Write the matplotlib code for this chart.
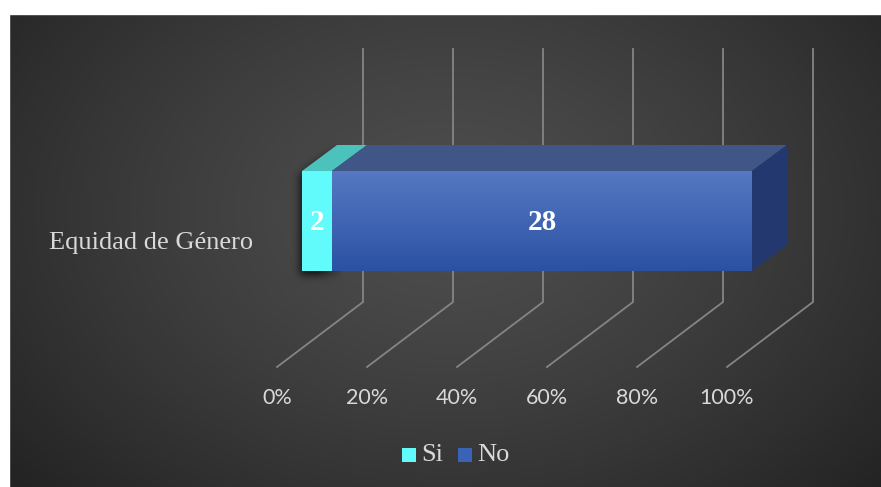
import numpy as np
import matplotlib.pyplot as plt
from matplotlib.patches import Polygon, Rectangle
from matplotlib.path import Path

category = "Equidad de Género"
series = ["Si", "No"]
counts = [2, 28]
ticks = [0, 20, 40, 60, 80, 100]

front_colors = ["#62fbfb", "#3f64b4"]
top_colors = ["#4cc2bd", "#3f5687"]
legend_colors = ["#62fbfb", "#3a62b6"]
side_color = "#22386e"
grid_color = "#858585"
text_color = "#d9d9d9"

W, H = 881, 487
PX = 4.5            # pixels per percent
X0 = 302            # pixel position of 0% on the bar's front plane

fig = plt.figure(figsize=(W / 100, H / 100), dpi=100, facecolor="#262626")
ax = fig.add_axes([0, 0, 1, 1])
xmin, xmax = -X0 / PX, (W - X0) / PX
ax.set_xlim(xmin, xmax)
ax.set_ylim(H, 0)
ax.axis("off")

# dark radial background
yy, xx = np.mgrid[0:H, 0:W]
r = np.sqrt(((xx - 450) / 560) ** 2 + ((yy - 210) / 400) ** 2)
shade = np.clip(0.305 - 0.16 * r ** 1.3, 0.14, 0.31)
bg = np.dstack([shade] * 3)
ax.imshow(bg, extent=[xmin, xmax, H, 0], aspect="auto", zorder=0)
fig.patches.append(Rectangle((0, 0), 9 / W, 1, transform=fig.transFigure,
                             color="white", zorder=10))
fig.patches.append(Rectangle((0, 1 - 14 / H), 1, 14 / H, transform=fig.transFigure,
                             color="white", zorder=10))

# 3d grid: back wall lines folding onto the floor
wall_dx = 61 / PX
floor_dx = -25 / PX
wall_top, wall_bot, floor_y = 49, 302, 367
for t in ticks:
    ax.plot([t + wall_dx, t + wall_dx, t + floor_dx], [wall_top, wall_bot, floor_y],
            color=grid_color, lw=1.3, zorder=2, solid_joinstyle="miter")
    ax.text(t + floor_dx, 398, f"{t}%", ha="center", va="center",
            color=text_color, fontsize=15.5, family="Lato", zorder=3)

# stacked 100% bar drawn as a box
total = sum(counts)
pct = [c / total * 100 for c in counts]
top, bot = 171, 271
ddx, ddy = 35 / PX, -26

# soft shadow around the left end of the box
box = Path([(X0, top), (X0 + 35, top + ddy), (X0 + 80, top + ddy),
            (X0 + 80, bot), (X0, bot)])
mask = box.contains_points(np.c_[xx.ravel() + 2, yy.ravel() - 3]).reshape(H, W).astype(float)
k = np.exp(-np.arange(-12, 13) ** 2 / (2 * 4.0 ** 2))
k /= k.sum()
mask = np.apply_along_axis(lambda v: np.convolve(v, k, mode="same"), 0, mask)
mask = np.apply_along_axis(lambda v: np.convolve(v, k, mode="same"), 1, mask)
mask *= np.clip((X0 + 40 - xx) / 25.0, 0, 1)
sh = np.zeros((H, W, 4))
sh[..., 3] = mask * 0.75
ax.imshow(sh, extent=[xmin, xmax, H, 0], aspect="auto", zorder=3)

left = 0
for i, p in enumerate(pct):
    right = left + p
    ax.add_patch(Polygon([[left, top], [right, top], [right + ddx, top + ddy],
                          [left + ddx, top + ddy]], closed=True,
                         facecolor=top_colors[i], edgecolor="none", zorder=4))
    if i == len(pct) - 1:
        ax.add_patch(Polygon([[right, top], [right + ddx, top + ddy],
                              [right + ddx, bot + ddy], [right, bot]], closed=True,
                             facecolor=side_color, edgecolor="none", zorder=4))
    if i == 1:
        grad = np.linspace(0, 1, 100)[:, None]
        c0 = np.array([0x56, 0x78, 0xc2]) / 255
        c1 = np.array([0x2a, 0x52, 0xa3]) / 255
        img = c0 + (c1 - c0) * grad[..., None]
        img = np.repeat(img, 2, axis=1)
        ax.imshow(img, extent=[left, right, bot, top], aspect="auto", zorder=5)
    else:
        ax.add_patch(Rectangle((left, top), p, bot - top, facecolor=front_colors[i],
                               edgecolor="none", zorder=5))
    ax.text((left + right) / 2, (top + bot) / 2 + 1, str(counts[i]), ha="center",
            va="center", color="white", fontsize=21, fontweight="bold",
            family="Liberation Serif", zorder=6)
    left = right

ax.text((151 - X0) / PX, 243, category, ha="center", va="center",
        color=text_color, fontsize=19, family="Liberation Serif", zorder=6)

# legend
leg_y = 455
for name, col, sx in zip(series, legend_colors, [402, 458]):
    ax.add_patch(Rectangle(((sx - X0) / PX, leg_y - 7), 14 / PX, 14,
                           facecolor=col, edgecolor="none", zorder=6))
    ax.text((sx + 19 - X0) / PX, leg_y, name, ha="left", va="center",
            color=text_color, fontsize=19, family="Liberation Serif", zorder=6)

fig.savefig("out.png", dpi=100, facecolor=fig.get_facecolor())
